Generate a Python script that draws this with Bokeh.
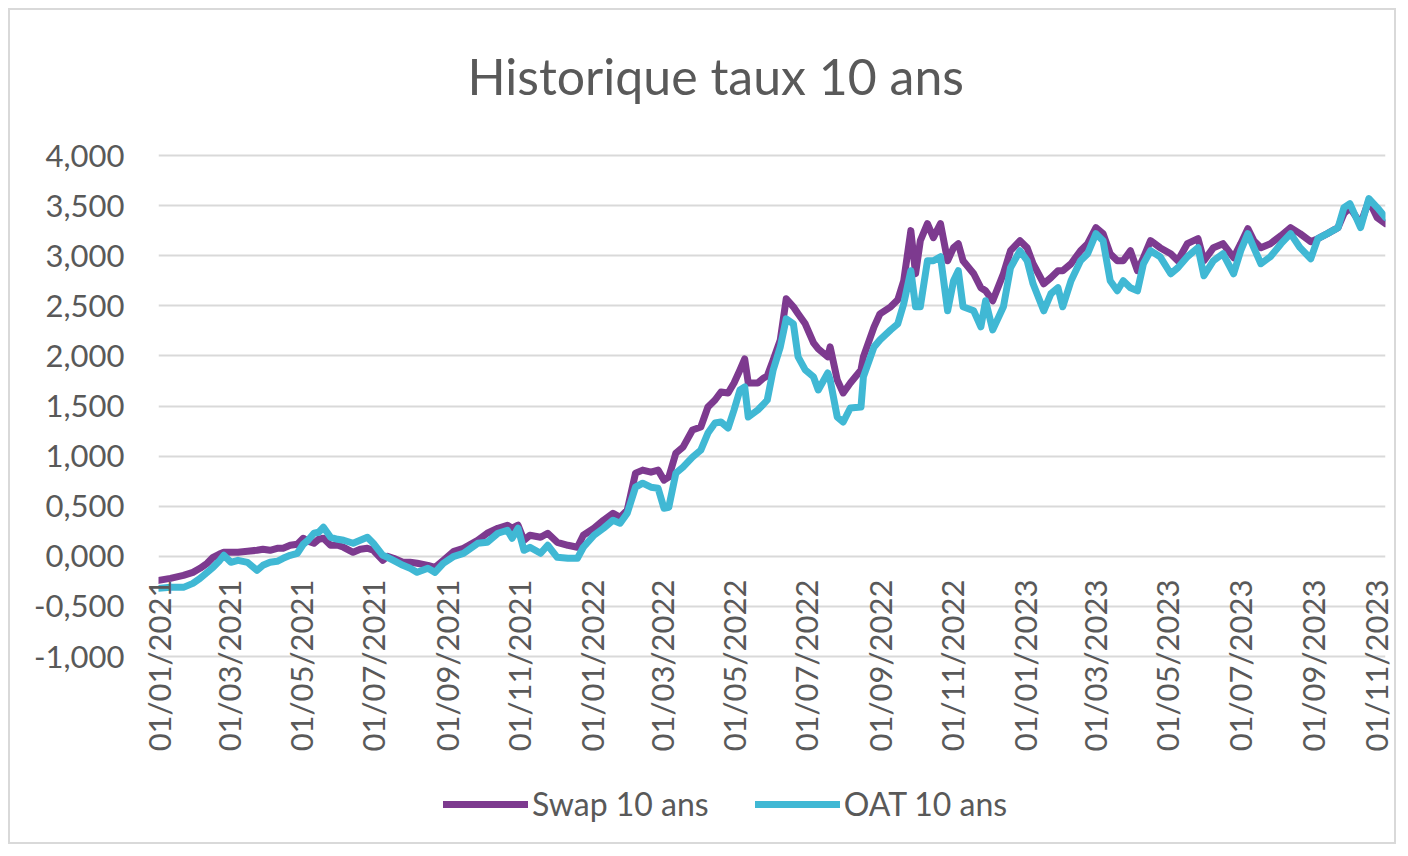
import math
import pandas as pd
from bokeh.plotting import figure
from bokeh.models import (FixedTicker, DatetimeTickFormatter, Legend, LegendItem,
                          Range1d, CustomJSTickFormatter)
from bokeh.embed import file_html
from bokeh.resources import INLINE

# ---------------- data ----------------
dates = [
    "2021-01-01", "2021-01-11", "2021-01-22", "2021-01-30", "2021-02-05", "2021-02-11",
    "2021-02-16", "2021-02-21", "2021-02-25", "2021-03-03", "2021-03-09", "2021-03-17",
    "2021-03-25", "2021-03-30", "2021-04-05", "2021-04-11", "2021-04-16", "2021-04-22",
    "2021-04-28", "2021-05-03", "2021-05-07", "2021-05-12", "2021-05-16", "2021-05-20",
    "2021-05-26", "2021-06-01", "2021-06-06", "2021-06-14", "2021-06-20", "2021-06-26",
    "2021-07-01", "2021-07-09", "2021-07-13", "2021-07-18", "2021-07-26", "2021-08-01",
    "2021-08-07", "2021-08-16", "2021-08-22", "2021-08-29", "2021-09-07", "2021-09-15",
    "2021-09-21", "2021-09-27", "2021-10-05", "2021-10-14", "2021-10-22", "2021-10-26",
    "2021-10-31", "2021-11-05", "2021-11-10", "2021-11-19", "2021-11-25", "2021-12-03",
    "2021-12-12", "2021-12-20", "2021-12-25", "2022-01-03", "2022-01-11", "2022-01-19",
    "2022-01-25", "2022-01-31", "2022-02-07", "2022-02-13", "2022-02-20", "2022-02-26",
    "2022-03-03", "2022-03-07", "2022-03-13", "2022-03-19", "2022-03-27", "2022-04-03",
    "2022-04-09", "2022-04-15", "2022-04-20", "2022-04-26", "2022-05-01", "2022-05-06",
    "2022-05-10", "2022-05-13", "2022-05-21", "2022-05-26", "2022-05-29", "2022-06-03",
    "2022-06-09", "2022-06-14", "2022-06-20", "2022-06-24", "2022-06-30", "2022-07-07",
    "2022-07-11", "2022-07-19", "2022-07-21", "2022-07-27", "2022-08-01", "2022-08-07",
    "2022-08-16", "2022-08-18", "2022-08-27", "2022-09-01", "2022-09-10", "2022-09-16",
    "2022-09-21", "2022-09-27", "2022-10-01", "2022-10-05", "2022-10-11", "2022-10-16",
    "2022-10-22", "2022-10-28", "2022-11-02", "2022-11-06", "2022-11-10", "2022-11-19",
    "2022-11-25", "2022-11-29", "2022-12-05", "2022-12-14", "2022-12-20", "2022-12-28",
    "2023-01-03", "2023-01-08", "2023-01-17", "2023-01-23", "2023-01-29", "2023-02-02",
    "2023-02-09", "2023-02-17", "2023-02-23", "2023-03-02", "2023-03-08", "2023-03-14",
    "2023-03-20", "2023-03-25", "2023-03-31", "2023-04-06", "2023-04-11", "2023-04-17",
    "2023-04-25", "2023-05-04", "2023-05-10", "2023-05-18", "2023-05-27", "2023-06-01",
    "2023-06-09", "2023-06-17", "2023-06-26", "2023-07-02", "2023-07-08", "2023-07-13",
    "2023-07-19", "2023-07-27", "2023-08-05", "2023-08-13", "2023-08-21", "2023-08-30",
    "2023-09-05", "2023-09-13", "2023-09-22", "2023-09-27", "2023-10-02", "2023-10-11",
    "2023-10-18", "2023-10-25", "2023-11-01",
]

swap_10 = [
    -0.24, -0.22, -0.19, -0.16, -0.12, -0.07,
    -0.01, 0.02, 0.04, 0.04, 0.04, 0.05,
    0.06, 0.07, 0.06, 0.08, 0.08, 0.11,
    0.12, 0.18, 0.15, 0.13, 0.17, 0.18,
    0.11, 0.11, 0.09, 0.04, 0.07, 0.08,
    0.06, -0.04, 0.00, -0.02, -0.06, -0.06,
    -0.07, -0.09, -0.11, -0.04, 0.05, 0.08,
    0.12, 0.16, 0.23, 0.28, 0.31, 0.28,
    0.31, 0.16, 0.21, 0.19, 0.23, 0.14,
    0.11, 0.09, 0.21, 0.28, 0.36, 0.43,
    0.39, 0.46, 0.83, 0.86, 0.84, 0.86,
    0.76, 0.79, 1.03, 1.09, 1.26, 1.29,
    1.49, 1.56, 1.64, 1.63, 1.73, 1.86,
    1.97, 1.73, 1.73, 1.78, 1.80, 1.96,
    2.16, 2.57, 2.49, 2.42, 2.32, 2.13,
    2.07, 1.99, 2.09, 1.76, 1.63, 1.73,
    1.86, 1.99, 2.29, 2.42, 2.49, 2.56,
    2.75, 3.25, 2.82, 3.15, 3.32, 3.18,
    3.32, 2.95, 3.08, 3.12, 2.95, 2.82,
    2.68, 2.65, 2.55, 2.82, 3.05, 3.15,
    3.08, 2.92, 2.72, 2.78, 2.85, 2.85,
    2.92, 3.05, 3.12, 3.28, 3.22, 3.02,
    2.95, 2.95, 3.05, 2.85, 2.98, 3.15,
    3.08, 3.02, 2.95, 3.12, 3.17, 2.95,
    3.08, 3.12, 2.98, 3.12, 3.27, 3.15,
    3.08, 3.12, 3.20, 3.28, 3.22, 3.14,
    3.17, 3.22, 3.28, 3.42, 3.48, 3.32,
    3.55, 3.38, 3.32,
]

oat_10 = [
    -0.32, -0.31, -0.31, -0.27, -0.22, -0.16,
    -0.11, -0.05, 0.01, -0.06, -0.04, -0.06,
    -0.14, -0.09, -0.06, -0.05, -0.02, 0.01,
    0.03, 0.12, 0.16, 0.23, 0.24, 0.29,
    0.19, 0.17, 0.16, 0.13, 0.16, 0.19,
    0.13, 0.01, -0.01, -0.04, -0.09, -0.12,
    -0.16, -0.12, -0.16, -0.07, 0.00, 0.03,
    0.08, 0.13, 0.14, 0.23, 0.26, 0.18,
    0.28, 0.06, 0.09, 0.03, 0.11, -0.01,
    -0.02, -0.02, 0.09, 0.21, 0.28, 0.36,
    0.33, 0.43, 0.69, 0.73, 0.69, 0.68,
    0.48, 0.49, 0.83, 0.89, 0.99, 1.06,
    1.23, 1.33, 1.34, 1.28, 1.46, 1.66,
    1.69, 1.39, 1.46, 1.52, 1.56, 1.86,
    2.09, 2.37, 2.32, 1.99, 1.86, 1.79,
    1.66, 1.83, 1.76, 1.39, 1.34, 1.48,
    1.49, 1.79, 2.09, 2.16, 2.26, 2.32,
    2.52, 2.85, 2.49, 2.49, 2.95, 2.95,
    2.99, 2.45, 2.75, 2.85, 2.49, 2.45,
    2.29, 2.55, 2.26, 2.49, 2.88, 3.05,
    2.95, 2.72, 2.45, 2.62, 2.68, 2.49,
    2.75, 2.95, 3.02, 3.22, 3.15, 2.75,
    2.65, 2.75, 2.68, 2.65, 2.92, 3.05,
    2.99, 2.82, 2.88, 2.99, 3.08, 2.80,
    2.95, 3.02, 2.82, 3.05, 3.22, 3.08,
    2.92, 2.99, 3.12, 3.22, 3.08, 2.97,
    3.17, 3.22, 3.28, 3.48, 3.52, 3.28,
    3.57, 3.48, 3.38,
]

x_tick_dates = [
    "2021-01-01", "2021-03-01", "2021-05-01", "2021-07-01", "2021-09-01", "2021-11-01",
    "2022-01-01", "2022-03-01", "2022-05-01", "2022-07-01", "2022-09-01", "2022-11-01",
    "2023-01-01", "2023-03-01", "2023-05-01", "2023-07-01", "2023-09-01", "2023-11-01",
]
y_ticks = [-1.0, -0.5, 0.0, 0.5, 1.0, 1.5, 2.0, 2.5, 3.0, 3.5, 4.0]
y_tick_labels = ["-1,000", "-0,500", "0,000", "0,500", "1,000", "1,500",
                 "2,000", "2,500", "3,000", "3,500", "4,000"]

series_names = ["Swap 10 ans", "OAT 10 ans"]
title_text = "Historique taux 10 ans"

# ---------------- layout ----------------
FONT = "Lato"
TEXT_COL = "#595959"
FIG_W, FIG_H = 1388, 836
MB_LEFT, MB_RIGHT, MB_TOP, MB_BOTTOM = 148, 13, 115, 10
AXIS_TOP_PAD = 30      # blank frame space above the top gridline (px)
AXIS_BOTTOM_PAD = 180  # blank frame space below the bottom gridline, holds labels + legend (px)
frame_h = FIG_H - MB_TOP - MB_BOTTOM
px_per_unit = (frame_h - AXIS_TOP_PAD - AXIS_BOTTOM_PAD) / (y_ticks[-1] - y_ticks[0])
y_end = y_ticks[-1] + AXIS_TOP_PAD / px_per_unit
y_start = y_ticks[0] - AXIS_BOTTOM_PAD / px_per_unit

x = pd.to_datetime(dates)
x_ticks_ts = [pd.Timestamp(d) for d in x_tick_dates]

p = figure(width=FIG_W, height=FIG_H, x_axis_type="datetime",
           output_backend="svg", toolbar_location=None,
           x_range=Range1d(x_ticks_ts[0], x_ticks_ts[-1]),
           y_range=Range1d(y_start, y_end),
           min_border_left=MB_LEFT, min_border_right=MB_RIGHT,
           min_border_top=MB_TOP, min_border_bottom=MB_BOTTOM)
p.styles = {"border": "2px solid #D9D9D9", "margin-left": "8px", "margin-top": "8px"}
p.background_fill_color = "white"
p.border_fill_color = "white"
p.outline_line_color = None

p.title.text = title_text
p.title.text_font = FONT
p.title.text_font_size = "50px"
p.title.text_font_style = "normal"
p.title.text_color = TEXT_COL
p.title.align = "left"
p.title.offset = 309
p.title.standoff = 40

l1 = p.line(x, swap_10, line_color="#7D3A8F", line_width=7, line_join="round", line_cap="round")
l2 = p.line(x, oat_10, line_color="#40B8D4", line_width=7, line_join="round", line_cap="round")

# x axis (labels sit just under the -0,500 gridline, as in the original)
xa = p.xaxis[0]
xa.ticker = FixedTicker(ticks=[t.timestamp() * 1000 for t in x_ticks_ts])
fmt = "%d/%m/%Y"
xa.formatter = DatetimeTickFormatter(microseconds=fmt, milliseconds=fmt, seconds=fmt,
                                     minsec=fmt, minutes=fmt, hourmin=fmt, hours=fmt,
                                     days=fmt, months=fmt, years=fmt)
xa.major_label_orientation = math.pi / 2
xa.major_label_standoff = -263
xa.axis_line_color = None
xa.major_tick_line_color = None
xa.minor_tick_line_color = None
xa.major_label_text_font = FONT
xa.major_label_text_font_size = "31px"
xa.major_label_text_color = TEXT_COL

# y axis
ya = p.yaxis[0]
ya.ticker = FixedTicker(ticks=y_ticks)
ya.formatter = CustomJSTickFormatter(
    args=dict(tick_vals=y_ticks, tick_texts=y_tick_labels),
    code="""
    for (let i = 0; i < tick_vals.length; i++) {
        if (Math.abs(tick_vals[i] - tick) < 1e-9) { return tick_texts[i]; }
    }
    return '';
    """)
ya.axis_line_color = None
ya.major_tick_line_color = None
ya.minor_tick_line_color = None
ya.major_label_standoff = 28
ya.major_label_text_font = FONT
ya.major_label_text_font_size = "31px"
ya.major_label_text_color = TEXT_COL

p.xgrid.grid_line_color = None
p.ygrid.grid_line_color = "#D9D9D9"
p.ygrid.grid_line_width = 2

legend = Legend(items=[LegendItem(label=series_names[0], renderers=[l1]),
                       LegendItem(label=series_names[1], renderers=[l2])],
                orientation="horizontal", location=(285, 13),
                glyph_width=85, glyph_height=30, label_height=30,
                label_standoff=4, spacing=46, padding=0, margin=0,
                border_line_color=None, background_fill_alpha=0,
                label_text_font=FONT, label_text_font_size="32px",
                label_text_color=TEXT_COL)
p.add_layout(legend)

open("out.html", "w").write(file_html(p, INLINE))
